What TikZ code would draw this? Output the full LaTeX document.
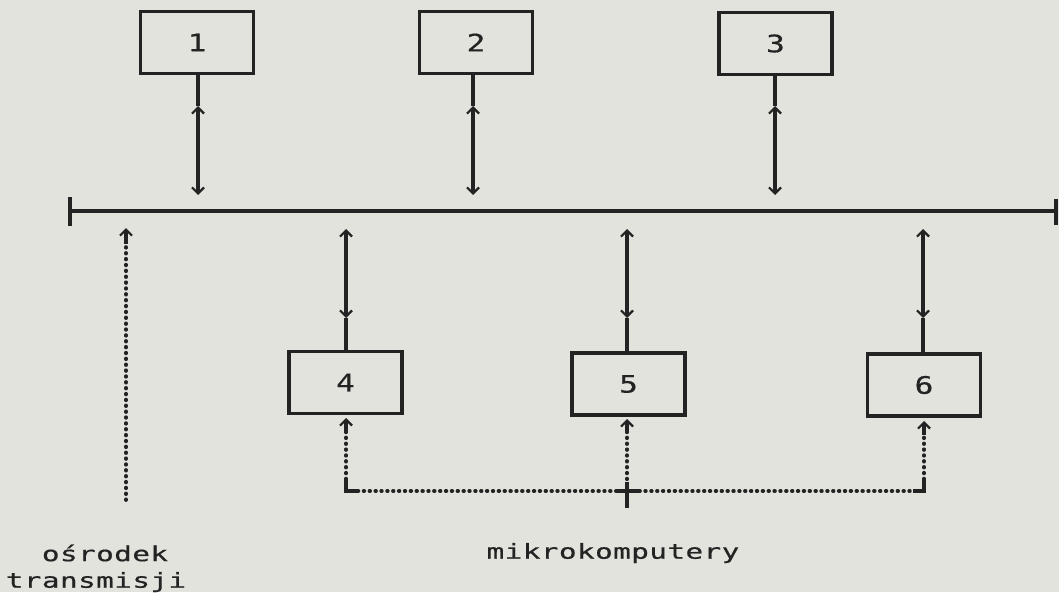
\documentclass[tikz,border=0pt]{standalone}
\usepackage{fontspec}
\newfontfamily\dotfont[FakeStretch=1.42,LetterSpace=2,FakeBold=0.6]{DejaVu Sans Mono}
\newfontfamily\digfont[FakeStretch=1.3,FakeBold=0.6]{DejaVu Sans Mono}
\usetikzlibrary{arrows.meta}
\definecolor{paper}{RGB}{227,227,222}
\definecolor{ink}{RGB}{35,35,35}
\tikzset{
  box/.style={draw=ink, line width=2.6pt, minimum width=84.5pt, minimum height=46.5pt,
    inner sep=0pt, font=\digfont\fontsize{18}{18}\selectfont, text=ink},
  wire/.style={draw=ink, line width=2.3pt},
  bus/.style={draw=ink, line width=2.8pt},
  barb/.tip={Straight Barb[length=4.5pt,width=9pt,line width=1.7pt]},
  dotline/.style={draw=ink, line width=2.8pt, line cap=round, dash pattern=on 0.5pt off 3.9pt},
  lbl/.style={font=\dotfont\fontsize{15.5}{18}\selectfont, text=ink, inner sep=0pt}
}
\begin{document}
\begin{tikzpicture}[x=0.75pt,y=-0.75pt]
\fill[paper] (0,0) rectangle (1059,592);
\useasboundingbox (0,0) rectangle (1059,592);

% top boxes
\node[box] (b1) at (197,42.5) {1};
\node[box] (b2) at (476,42.5) {2};
\node[box] (b3) at (775.5,43.5) {3};
% bottom boxes
\node[box] (b4) at (345.5,382.5) {4};
\node[box] (b5) at (628.5,384) {5};
\node[box] (b6) at (924,385) {6};

% bus
\coordinate (busL) at (70,211);
\coordinate (busR) at (1056,211);
\draw[bus] (busL) -- (busR);
\draw[bus] (70,197) -- (70,226);
\draw[bus] (1056,199) -- (1056,225);

% top connectors
\foreach \n/\x in {1/198,2/473,3/775}{
  \coordinate (t\n) at (\x,106);
  \coordinate (d\n) at (\x,195);
  \draw[wire] (b\n.south -| t\n) -- (t\n);
  \draw[wire, barb-barb] (t\n) -- (d\n);
}

% bottom connectors
\foreach \n/\x in {4/346,5/627,6/923}{
  \coordinate (u\n) at (\x,229);
  \coordinate (e\n) at (\x,318);
  \draw[wire, barb-barb] (u\n) -- (e\n);
  \draw[wire] (e\n) -- (b\n.north -| e\n);
}

% dotted connections of microcomputers
\coordinate (c4) at (346,491);
\coordinate (c5) at (627,491);
\coordinate (c6) at (924,491);
\coordinate (p4) at (346,418);
\coordinate (p5) at (627,419);
\coordinate (p6) at (924,421);
\draw[dotline] (c4) -- (c6);
\draw[dotline] (c4) -- (346,428);
\draw[dotline] (c5) -- (627,429);
\draw[dotline] (c6) -- (924,431);
\draw[wire, barb-] (p4) -- (346,432);
\draw[wire, barb-] (p5) -- (627,433);
\draw[wire, barb-] (p6) -- (924,435);
% corners and cross
\draw[wire] (346,480) -- (c4) -- (357,491);
\draw[wire] (913,491) -- (c6) -- (924,480);
\draw[wire] (627,482) -- (627,508);
\draw[wire] (617,491) -- (639,491);

% transmission centre
\coordinate (o1) at (126,500);
\coordinate (o2) at (126,228);
\draw[dotline] (o1) -- (126,240);
\draw[wire, barb-] (o2) -- (126,244);

% labels
\node[lbl] (l1) at (105,553) {ośrodek};
\node[lbl] (l2) at (96,582) {transmisji};
\node[lbl] (l3) at (613,553) {mikrokomputery};
\end{tikzpicture}
\end{document}
